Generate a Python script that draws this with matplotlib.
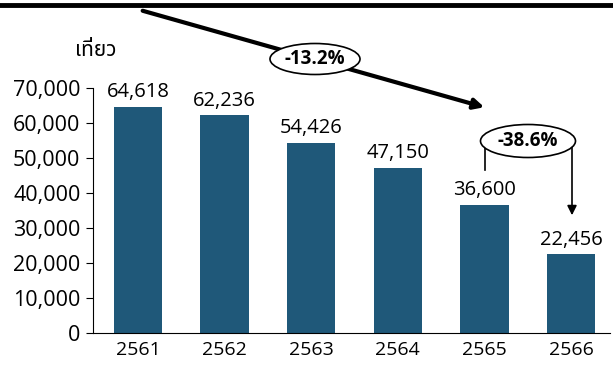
import matplotlib.pyplot as plt
from matplotlib.patches import Ellipse
from matplotlib import font_manager

years = ['2561', '2562', '2563', '2564', '2565', '2566']
trips = [64618, 62236, 54426, 47150, 36600, 22456]
yticks = [0, 10000, 20000, 30000, 40000, 50000, 60000, 70000]

names = {f.name for f in font_manager.fontManager.ttflist}
thai = [n for n in ['Noto Sans Thai', 'Noto Sans Thai UI', 'Loma', 'Garuda', 'Norasi', 'Tlwg Typo'] if n in names]
plt.rcParams['font.family'] = ['Open Sans'] + thai + ['DejaVu Sans']

fig = plt.figure(figsize=(6.13, 3.65), dpi=100)
ax = fig.add_axes([93 / 613, 32 / 365, 517 / 613, 245 / 365])

x = range(len(years))
ax.bar(x, trips, width=0.56, color='#1f5879')
for i, v in enumerate(trips):
    ax.text(i, v + 1300, f'{v:,}', ha='center', va='bottom', fontsize=14.5)

ax.set_ylim(0, 70000)
ax.set_xlim(-0.52, 5.45)
ax.set_yticks(yticks)
ax.set_yticklabels([f'{t:,}' for t in yticks], fontsize=15.5)
ax.set_xticks(list(x))
ax.set_xticklabels(years, fontsize=14)
ax.tick_params(axis='x', length=0, pad=6)
ax.tick_params(axis='y', length=5, pad=4)
for s in ['top', 'right']:
    ax.spines[s].set_visible(False)

fig.text(75 / 613, 1 - 50 / 365, 'เที่ยว', fontsize=15, va='center', ha='left')

# thick rule across the top
fig.add_artist(plt.Line2D([0, 1], [1 - 5 / 365, 1 - 5 / 365], color='black', lw=3.5))

def fx(px):
    return px / 613

def fy(py):
    return 1 - py / 365

# overall trend arrow
fig.add_artist(plt.Annotation('', xy=(fx(487), fy(108)), xytext=(fx(140), fy(10)),
                              xycoords='figure fraction', textcoords='figure fraction',
                              arrowprops=dict(arrowstyle='-|>', color='black', lw=3, mutation_scale=15),
                              zorder=2))
fig.add_artist(Ellipse((fx(315), fy(59)), 90 / 613, 31 / 365, transform=fig.transFigure,
                       facecolor='white', edgecolor='black', lw=1.2, zorder=5))
fig.text(fx(315), fy(59), '-13.2%', ha='center', va='center', fontsize=13.5,
         fontweight='bold', zorder=6)

# last-year drop bracket
fig.add_artist(plt.Line2D([fx(485), fx(485)], [fy(140), fy(170)], color='black', lw=1.2, zorder=2))
fig.add_artist(plt.Annotation('', xy=(fx(572), fy(218)), xytext=(fx(572), fy(140)),
                              xycoords='figure fraction', textcoords='figure fraction',
                              arrowprops=dict(arrowstyle='-|>', color='black', lw=1.2, mutation_scale=14),
                              zorder=2))
fig.add_artist(Ellipse((fx(528), fy(141)), 95 / 613, 33 / 365, transform=fig.transFigure,
                       facecolor='white', edgecolor='black', lw=1.2, zorder=5))
fig.text(fx(528), fy(141), '-38.6%', ha='center', va='center', fontsize=13.5,
         fontweight='bold', zorder=6)

fig.savefig('out.png', dpi=100)
